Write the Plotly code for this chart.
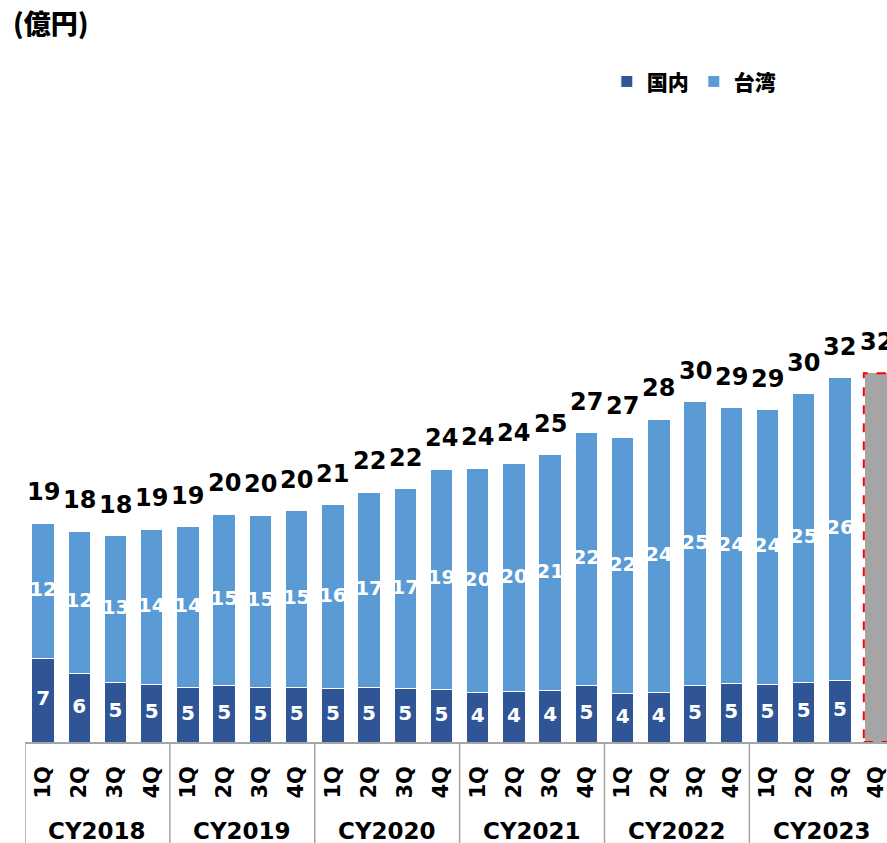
import plotly.graph_objects as go

years = ['CY2018', 'CY2019', 'CY2020', 'CY2021', 'CY2022', 'CY2023']
quarters = ['1Q', '2Q', '3Q', '4Q']

# 国内 / 台湾 (億円), CY2018 1Q .. CY2023 3Q
domestic = [7.3, 6.0, 5.2, 5.0, 4.8, 4.9, 4.8, 4.8, 4.7, 4.8, 4.7, 4.6,
            4.3, 4.4, 4.5, 4.9, 4.2, 4.3, 4.9, 5.1, 5.0, 5.2, 5.4]
taiwan = [11.8, 12.4, 12.8, 13.6, 14.0, 15.0, 15.0, 15.4, 16.0, 17.0, 17.4, 19.2,
          19.6, 19.9, 20.6, 22.1, 22.4, 23.9, 24.8, 24.1, 24.0, 25.2, 26.4]
# CY2023 4Q (見込み)
forecast = 32.2

DOM_C = '#2F5597'
TW_C = '#5B9BD5'
GREY = '#A5A5A5'
NUM_FONT = 'DejaVu Sans, Noto Sans CJK JP'
JP_FONT = 'Noto Sans CJK JP, DejaVu Sans'

n_all = len(years) * len(quarters)
xs = list(range(len(domestic)))
x_fc = len(domestic)
ticktext = [q for y in years for q in quarters]
totals = [d + t for d, t in zip(domestic, taiwan)]
bargap = 0.38

fig = go.Figure()
fig.add_trace(go.Bar(x=xs, y=domestic, name='国内', marker=dict(color=DOM_C, line=dict(color='white', width=1))))
fig.add_trace(go.Bar(x=xs, y=taiwan, name='台湾', marker=dict(color=TW_C, line=dict(color='white', width=1))))
fig.add_trace(go.Bar(x=[x_fc], y=[forecast], showlegend=False, marker=dict(color=GREY, line=dict(width=0))))

# labels inside segments
fig.add_trace(go.Scatter(x=xs, y=[d / 2 for d in domestic], mode='text',
                         text=['%.0f' % d for d in domestic], showlegend=False,
                         textfont=dict(color='white', size=20, family=NUM_FONT, weight='bold')))
fig.add_trace(go.Scatter(x=xs, y=[d + t / 2 for d, t in zip(domestic, taiwan)], mode='text',
                         text=['%.0f' % t for t in taiwan], showlegend=False,
                         textfont=dict(color='white', size=20, family=NUM_FONT, weight='bold')))

annotations = []
for x, tot in zip(xs + [x_fc], totals + [forecast]):
    annotations.append(dict(x=x, y=tot, xref='x', yref='y', text='<b>%.0f</b>' % tot,
                            showarrow=False, yanchor='bottom', yshift=15,
                            font=dict(size=24, color='black', family=NUM_FONT)))

# year labels and dividers
shapes = []
for k, yr in enumerate(years):
    annotations.append(dict(x=k * len(quarters) + (len(quarters) - 1) / 2, y=0, xref='x', yref='paper',
                            text='<b>%s</b>' % yr, showarrow=False, yanchor='middle', yshift=-89,
                            font=dict(size=23, color='black', family=NUM_FONT)))
for k in range(len(years) + 1):
    xv = k * len(quarters) - 0.5
    shapes.append(dict(type='line', xref='x', yref='paper', x0=xv, x1=xv, y0=0, y1=-0.16,
                       line=dict(color='#A6A6A6', width=1.5)))

# dashed outline of forecast bar
w = 1 - bargap
shapes.append(dict(type='rect', xref='x', yref='y', x0=x_fc - w / 2 - 0.03, x1=x_fc + w / 2 + 0.03,
                   y0=0, y1=forecast, line=dict(color='#FF0000', width=2, dash='dash')))

annotations.append(dict(x=-0.016, y=1.048, xref='paper', yref='paper', text='(億円)',
                        showarrow=False, xanchor='left', yanchor='middle',
                        font=dict(size=27, color='black', family=JP_FONT, weight=900)))

fig.update_layout(
    width=887, height=843,
    margin=dict(l=25, r=0, t=55, b=101),
    plot_bgcolor='white', paper_bgcolor='white',
    barmode='stack', bargap=bargap,
    showlegend=True,
    legend=dict(orientation='h', x=0.675, y=0.961, xanchor='left', yanchor='middle', traceorder='normal',
                font=dict(size=21, color='black', family=JP_FONT, weight=900), itemclick=False),
    xaxis=dict(range=[-0.5, 23.3], tickmode='array', tickvals=list(range(n_all)), ticktext=ticktext,
               tickangle=-90, showline=True, linecolor='#A6A6A6', linewidth=1.5, showgrid=False,
               zeroline=False, ticks='', ticklabelstandoff=14, ticklabeloverflow='allow',
               tickfont=dict(size=21, color='black', family=NUM_FONT, weight='bold')),
    yaxis=dict(range=[0, 60], visible=False, showgrid=False),
    annotations=annotations, shapes=shapes,
)

# drop the default 8px body margin so the figure fills the window
fig.write_html('out.html', config={'displayModeBar': False},
               post_script="document.body.style.margin='0';")
